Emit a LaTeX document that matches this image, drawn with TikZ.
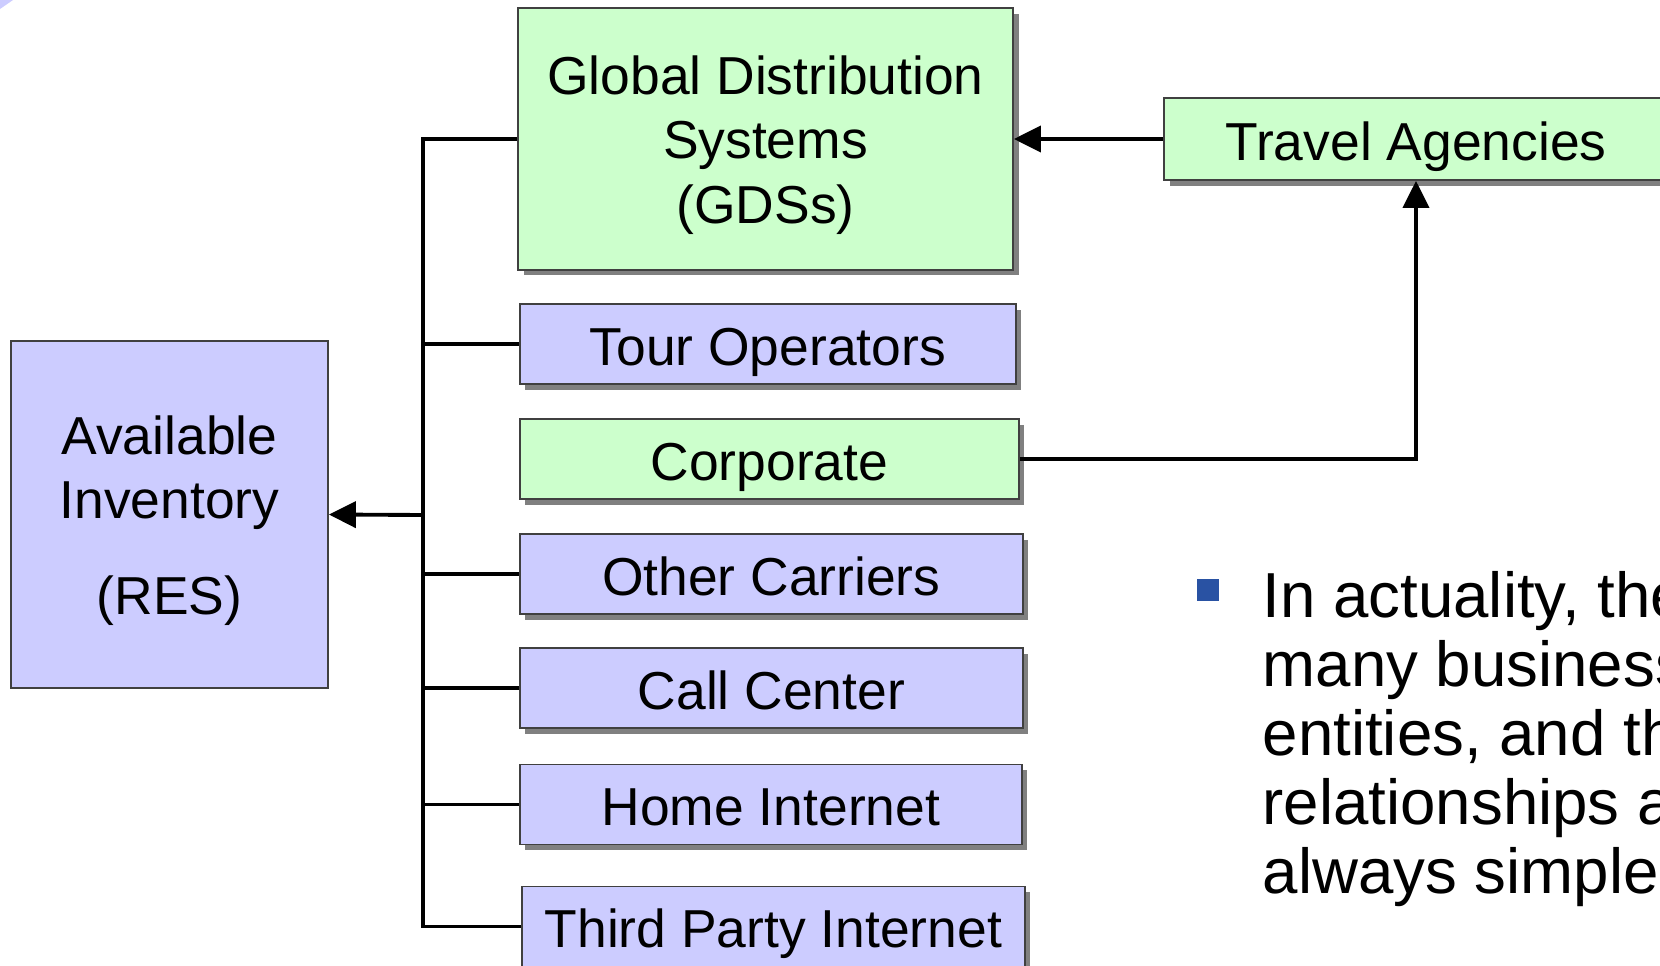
\documentclass[tikz,border=0pt]{standalone}
\usepackage{fontspec}
\setmainfont{Liberation Sans}
\usetikzlibrary{arrows.meta, positioning, calc, shadows}
\definecolor{PaleGreen}{RGB}{204,255,204}
\definecolor{PaleBlue}{RGB}{204,204,255}
\definecolor{BulletBlue}{RGB}{41,82,163}
\definecolor{ShadowGray}{RGB}{128,128,128}
\def\bh{8mm}
% taller first line pushes the stacked labels down a little
\def\topline{\rule{0pt}{14.4pt}}

\begin{document}
\begin{tikzpicture}[x=0.1mm, y=-0.1mm,
    font=\fontsize{15.2}{18.3}\selectfont,
    box/.style={draw=black!75, line width=0.5pt, inner sep=0pt, align=center},
    chan/.style={box, minimum height=\bh,
        drop shadow={shadow xshift=0.55mm, shadow yshift=-0.55mm, fill=ShadowGray, opacity=1}},
    oneline/.style={text height=15.2pt, text depth=3.2pt},
    link/.style={line width=1.1pt},
    arr/.style={link, -{Triangle[length=2.7mm, width=2.6mm]}}]

\useasboundingbox (0,0) rectangle (1660,966);
\clip (0,0) rectangle (1660,966);

% corner piece
\fill[PaleBlue] (0,0) -- (13,0) -- (0,9) -- cycle;

% inventory and the GDS / agency boxes
\node[box, fill=PaleBlue, minimum width=31.7mm, minimum height=34.7mm] (res) at (169.5,514.5)
    {\topline Available\\Inventory\\[9pt](RES)};
\node[chan, fill=PaleGreen, minimum width=49.5mm, minimum height=26.2mm] (gds) at (765.5,139)
    {\topline Global Distribution\\Systems\\(GDSs)};
\node[chan, oneline, fill=PaleGreen, minimum width=50.4mm, minimum height=8.2mm] (ta) at (1416,139)
    {Travel Agencies};

% sales channels
\foreach \nm/\txt/\x/\cy/\w/\col in {%
    tour/Tour Operators/519/344/49.6/PaleBlue,
    corp/Corporate/519/459/49.9/PaleGreen,
    other/Other Carriers/519/574/50.3/PaleBlue,
    call/Call Center/519/688/50.3/PaleBlue,
    home/Home Internet/519/804.5/50.2/PaleBlue,
    third/Third Party Internet/521/926.5/50.3/PaleBlue}{%
    \node[chan, oneline, fill=\col, minimum width=\w mm, anchor=west] (\nm) at (\x,\cy) {\txt};
}

% bus into the inventory
\coordinate (bus) at (423,515);
\draw[link] (gds.west) -| (bus |- third.west) -- (third.west);
\foreach \nm in {tour, other, call, home}
    \draw[link] (\nm.west) -- (\nm.west -| bus);
\draw[arr] (bus) -- (res.east);

% agency links
\draw[arr] (ta.west) -- (gds.east);
\draw[arr] (corp.east) -| (ta.south);

% bullet text
\fill[BulletBlue] (1197,579) rectangle (1219,601);
\foreach \ln [count=\i from 0] in {%
    {In actuality, the}, {many business}, {entities, and th},
    {relationships a}, {always simple}}{%
    \node[anchor=base west, inner sep=0pt, font=\fontsize{18.1}{19.6}\selectfont]
        (line\i) at (1262,{617+69*\i}) {\ln};
}

\end{tikzpicture}
\end{document}
